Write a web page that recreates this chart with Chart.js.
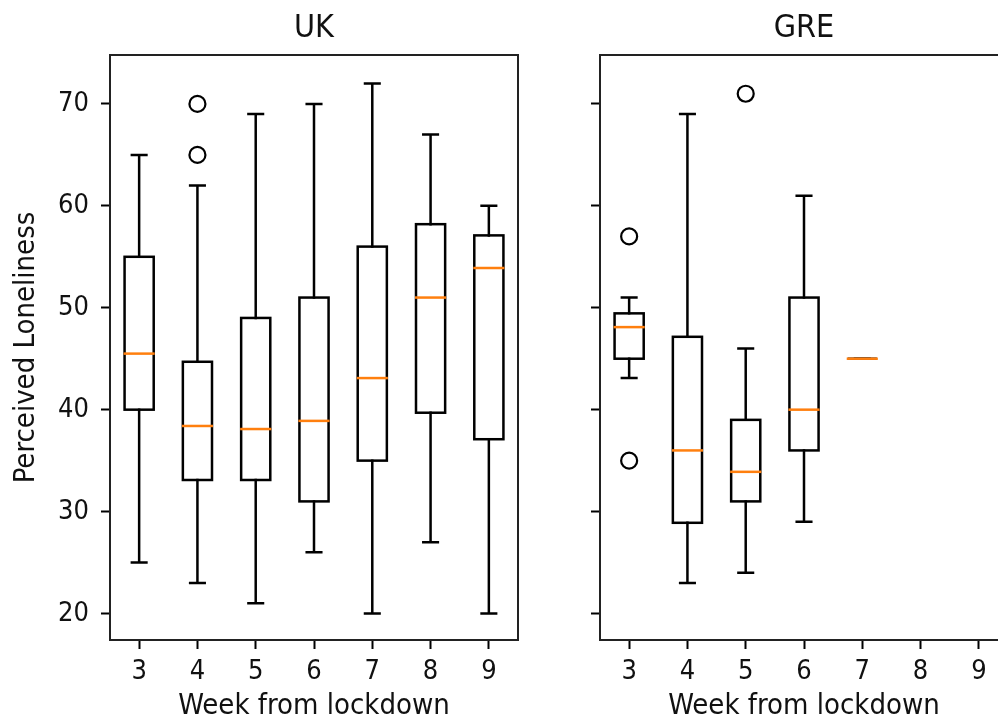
<!DOCTYPE html>
<html>
<head>
<meta charset="utf-8">
<script src="https://cdn.jsdelivr.net/npm/chart.js@4.4.1/dist/chart.umd.min.js"></script>
<style>
  html, body { margin: 0; padding: 0; background: #fff; overflow: hidden; }
  body { width: 998px; height: 724px; position: relative; }
  canvas { position: absolute; top: 0; }
  #uk { left: 0; }
  #gre { left: 490px; }
</style>
</head>
<body>
<canvas id="uk" width="540" height="724"></canvas>
<canvas id="gre" width="540" height="724"></canvas>
<script>
const weeks = [3, 4, 5, 6, 7, 8, 9];
const yTicks = [20, 30, 40, 50, 60, 70];

// UK box stats per week
const ukLow    = [25, 23, 21, 26, 20, 27, 20];
const ukQ1     = [40, 33.1, 33.1, 31, 35, 39.7, 37.1];
const ukMedian = [45.5, 38.4, 38.1, 38.9, 43.1, 51, 53.9];
const ukQ3     = [55, 44.7, 49, 51, 56, 58.2, 57.1];
const ukHigh   = [65, 62, 69, 70, 72, 67, 60];
const ukOutWeek = [4, 4];
const ukOutVal  = [70, 65];

// GRE box stats per week (no data for 8 and 9)
const greLow    = [43.1, 23, 24, 29, 45, null, null];
const greQ1     = [45, 28.9, 31, 36, 45, null, null];
const greMedian = [48.1, 36, 33.9, 40, 45, null, null];
const greQ3     = [49.45, 47.15, 39, 51, 45, null, null];
const greHigh   = [51, 69, 46, 61, 45, null, null];
const greOutWeek = [3, 3, 5];
const greOutVal  = [57, 35, 71];

const FONT = "'DejaVu Sans Condensed', 'DejaVu Sans', sans-serif";
const TEXT = '#111';

function boxes(low, q1, med, q3, high) {
  return {
    id: 'boxes',
    afterDatasetsDraw(chart) {
      const { ctx, scales: { x, y } } = chart;
      ctx.save();
      ctx.lineCap = 'square';
      weeks.forEach((w, i) => {
        if (med[i] == null) return;
        const xl = x.getPixelForValue(w - 0.25);
        const xr = x.getPixelForValue(w + 0.25);
        const xc = x.getPixelForValue(w);
        const cl = x.getPixelForValue(w - 0.125);
        const cr = x.getPixelForValue(w + 0.125);
        const yLo = y.getPixelForValue(low[i]);
        const y1 = y.getPixelForValue(q1[i]);
        const y3 = y.getPixelForValue(q3[i]);
        const yHi = y.getPixelForValue(high[i]);
        const yM = y.getPixelForValue(med[i]);

        ctx.strokeStyle = '#000';
        ctx.lineWidth = 2.5;
        ctx.lineJoin = 'miter';
        ctx.strokeRect(xl, y3, xr - xl, y1 - y3);

        ctx.beginPath();
        ctx.moveTo(xc, y1); ctx.lineTo(xc, yLo);
        ctx.moveTo(xc, y3); ctx.lineTo(xc, yHi);
        ctx.moveTo(cl, yLo); ctx.lineTo(cr, yLo);
        ctx.moveTo(cl, yHi); ctx.lineTo(cr, yHi);
        ctx.stroke();

        ctx.strokeStyle = '#ff7f0e';
        ctx.lineCap = 'butt';
        ctx.beginPath();
        ctx.moveTo(xl - 1, yM); ctx.lineTo(xr + 1, yM);
        ctx.stroke();
        ctx.lineCap = 'square';
      });
      ctx.restore();
    },
    afterDraw(chart) {
      const { ctx, chartArea: a } = chart;
      ctx.save();
      ctx.strokeStyle = '#222';
      ctx.lineWidth = 2;
      ctx.strokeRect(a.left, a.top, a.right - a.left, a.bottom - a.top);
      ctx.restore();
    }
  };
}

function makeChart(id, title, stats, outWeek, outVal, showYLabels) {
  const outliers = outWeek.map((w, i) => ({ x: w, y: outVal[i] }));
  return new Chart(document.getElementById(id), {
    type: 'scatter',
    data: {
      datasets: [{
        data: outliers,
        pointStyle: 'circle',
        pointRadius: 8,
        pointBorderWidth: 2.2,
        pointBorderColor: '#000',
        pointBackgroundColor: 'rgba(0,0,0,0)'
      }]
    },
    options: {
      responsive: false,
      animation: false,
      events: [],
      layout: { padding: { top: 0, right: 22, bottom: 0, left: 0 } },
      plugins: {
        legend: { display: false },
        tooltip: { enabled: false },
        title: {
          display: true,
          text: title,
          fullSize: false,
          color: TEXT,
          font: { family: FONT, size: 32, weight: 'normal', lineHeight: 1.2 },
          padding: { top: 9.5, bottom: 7.1 }
        }
      },
      scales: {
        x: {
          type: 'linear',
          min: 2.5,
          max: 9.5,
          afterBuildTicks: s => { s.ticks = weeks.map(v => ({ value: v })); },
          afterFit: s => { s.height = 84; },
          grid: { drawOnChartArea: false, drawTicks: true, tickLength: 9, tickWidth: 2, tickColor: '#000' },
          border: { display: false },
          ticks: { color: TEXT, padding: 7, font: { family: FONT, size: 27, lineHeight: 1.2 } },
          title: {
            display: true,
            text: 'Week from lockdown',
            color: TEXT,
            font: { family: FONT, size: 29, lineHeight: 1.2 },
            padding: { top: 0, bottom: 0 }
          }
        },
        y: {
          type: 'linear',
          min: 17.4,
          max: 74.8,
          afterBuildTicks: s => { s.ticks = yTicks.map(v => ({ value: v })); },
          afterFit: s => { s.width = 110; },
          grid: { drawOnChartArea: false, drawTicks: true, tickLength: 9, tickWidth: 2, tickColor: '#000' },
          border: { display: false },
          ticks: { display: showYLabels, color: TEXT, padding: 12, font: { family: FONT, size: 27, lineHeight: 1.2 } },
          title: {
            display: showYLabels,
            text: 'Perceived Loneliness',
            color: TEXT,
            font: { family: FONT, size: 29, lineHeight: 1.2 },
            padding: { top: 9, bottom: 0 }
          }
        }
      }
    },
    plugins: [boxes(...stats)]
  });
}

makeChart('uk', 'UK', [ukLow, ukQ1, ukMedian, ukQ3, ukHigh], ukOutWeek, ukOutVal, true);
makeChart('gre', 'GRE', [greLow, greQ1, greMedian, greQ3, greHigh], greOutWeek, greOutVal, false);
</script>
</body>
</html>
